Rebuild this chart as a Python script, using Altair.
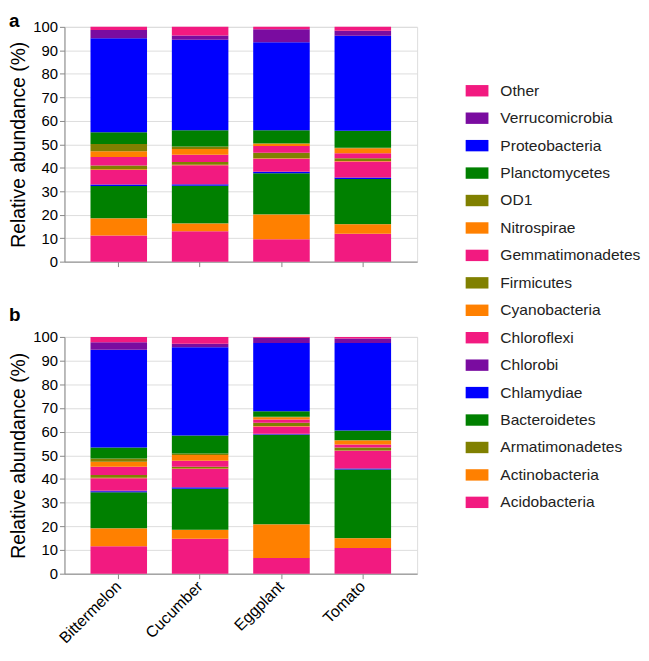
import altair as alt
import pandas as pd

plants = ["Bittermelon", "Cucumber", "Eggplant", "Tomato"]

# stack order, bottom to top
phyla = ["Acidobacteria", "Actinobacteria", "Armatimonadetes", "Bacteroidetes",
         "Chlamydiae", "Chlorobi", "Chloroflexi", "Cyanobacteria", "Firmicutes",
         "Gemmatimonadetes", "Nitrospirae", "OD1", "Planctomycetes",
         "Proteobacteria", "Verrucomicrobia", "Other"]

PINK, ORANGE, OLIVE, GREEN, BLUE, PURPLE = "#F21A80", "#FF8000", "#808000", "#008000", "#0000FF", "#7A0CA0"
phylum_colors = [PINK, ORANGE, OLIVE, GREEN, BLUE, PURPLE,
                 PINK, ORANGE, OLIVE, PINK, ORANGE, OLIVE, GREEN, BLUE, PURPLE, PINK]

# panel a (relative abundance, %), in stack order
a_bittermelon = [11.1, 7.3, 0.2, 13.6, 0.6, 0.2, 6.0, 0.4, 1.6, 3.6, 2.4, 3.1, 5.0, 40.1, 3.5, 1.3]
a_cucumber    = [12.9, 3.3, 0.1, 16.0, 0.6, 0.2, 8.0, 0.2, 1.1, 3.1, 2.5, 1.0, 7.0, 38.5, 1.8, 3.7]
a_eggplant    = [9.5, 10.6, 0.1, 17.5, 0.5, 0.2, 5.4, 0.2, 2.4, 2.9, 0.9, 0.2, 5.6, 37.4, 5.6, 1.0]
a_tomato      = [11.9, 4.0, 0.1, 19.2, 0.5, 0.2, 6.8, 0.2, 1.1, 2.2, 2.1, 0.2, 7.2, 40.5, 2.1, 1.7]

# panel b
b_bittermelon = [11.6, 7.5, 0.2, 15.1, 0.4, 0.3, 5.2, 0.2, 1.2, 3.5, 2.1, 1.4, 4.6, 41.3, 3.1, 2.3]
b_cucumber    = [14.8, 3.7, 0.1, 17.3, 0.5, 0.2, 7.6, 0.2, 0.8, 2.5, 2.4, 0.7, 7.6, 37.2, 1.5, 2.9]
b_eggplant    = [6.6, 14.2, 0.2, 37.7, 0.2, 0.2, 3.1, 0.2, 1.3, 1.4, 1.0, 0.2, 2.3, 28.8, 2.3, 0.3]
b_tomato      = [10.8, 4.2, 0.1, 28.9, 0.3, 0.2, 7.4, 0.1, 1.3, 1.3, 1.7, 0.2, 4.0, 36.9, 1.9, 0.7]

y_ticks = [0, 10, 20, 30, 40, 50, 60, 70, 80, 90, 100]


def make_df(series):
    rows = []
    for plant, vals in zip(plants, series):
        for i, (ph, v) in enumerate(zip(phyla, vals)):
            rows.append({"plant": plant, "phylum": ph, "idx": i, "value": v})
    return pd.DataFrame(rows)


df_a = make_df([a_bittermelon, a_cucumber, a_eggplant, a_tomato])
df_b = make_df([b_bittermelon, b_cucumber, b_eggplant, b_tomato])

legend_order = phyla[::-1]
legend_colors = phylum_colors[::-1]

FONT = "Liberation Sans"
rect_symbol = "M-1,-0.5L1,-0.5L1,0.5L-1,0.5Z"


def panel(df, letter, show_labels, h, title_offset):
    return alt.Chart(df).mark_bar().encode(
        x=alt.X("plant:N", sort=plants,
                scale=alt.Scale(paddingInner=0.305, paddingOuter=0.32),
                axis=alt.Axis(title=None, labels=show_labels, labelAngle=-45,
                              labelAlign="right", labelBaseline="middle",
                              labelFontSize=16, labelPadding=5)),
        y=alt.Y("value:Q", stack="zero",
                scale=alt.Scale(domain=[0, 100], nice=False),
                axis=alt.Axis(values=y_ticks, title="Relative abundance (%)",
                              titleFontSize=19.5, titleFontWeight="normal",
                              labelFontSize=15, titlePadding=4, labelPadding=2)),
        color=alt.Color("phylum:N",
                        scale=alt.Scale(domain=legend_order, range=legend_colors),
                        legend=alt.Legend(title=None, orient="none",
                                          legendX=405, legendY=53,
                                          symbolType=rect_symbol, symbolSize=529,
                                          symbolStrokeWidth=0, symbolOpacity=1,
                                          labelFontSize=15.7, labelFont=FONT,
                                          labelOffset=12, rowPadding=7.7,
                                          labelColor="#222222")),
        order=alt.Order("idx:Q", sort="ascending"),
    ).properties(
        width=356, height=h,
        title=alt.TitleParams(letter, anchor="start", frame="bounds", fontSize=19,
                              fontWeight="bold", font=FONT, offset=title_offset,
                              color="black"),
    )


chart = alt.vconcat(
    panel(df_a, "a", False, 237, -11),
    panel(df_b, "b", True, 239, 5),
    spacing=35,
    padding=0,
).configure_view(stroke=None).configure_axis(
    domainColor="black", domainWidth=2, tickColor="black", tickWidth=2, tickSize=7,
    labelColor="#222222", titleColor="#222222", labelFont=FONT, titleFont=FONT,
    grid=False,
).configure(font=FONT)

chart.save("out.html", embed_options={"renderer": "svg", "actions": False})
